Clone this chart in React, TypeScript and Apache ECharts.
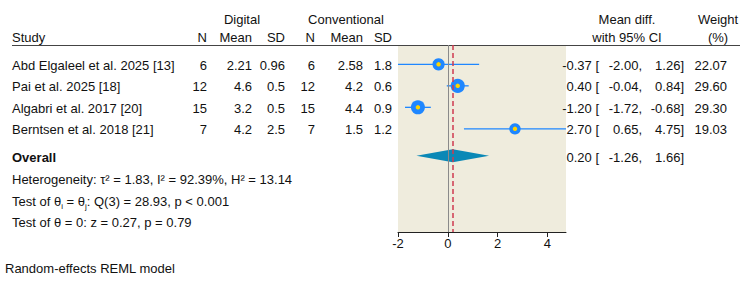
import React, { useEffect, useRef } from 'react';
import * as echarts from 'echarts';

const studies = ['Abd Elgaleel et al. 2025 [13]', 'Pai et al. 2025 [18]', 'Algabri et al. 2017 [20]', 'Berntsen et al. 2018 [21]'];
const digitalN = [6, 12, 15, 7];
const digitalMean = [2.21, 4.6, 3.2, 4.2];
const digitalSD = [0.96, 0.5, 0.5, 2.5];
const convN = [6, 12, 15, 7];
const convMean = [2.58, 4.2, 4.4, 1.5];
const convSD = [1.8, 0.6, 0.9, 1.2];
const meanDiff = [-0.37, 0.4, -1.2, 2.7];
const ciLow = [-2.0, -0.04, -1.72, 0.65];
const ciHigh = [1.26, 0.84, -0.68, 4.75];
const weights = [22.07, 29.6, 29.3, 19.03];
const overallEffect = [0.2, -1.26, 1.66]; // estimate, low, high
const xTicks = [-2, 0, 2, 4];
const statLines = [
  'Heterogeneity: τ² = 1.83, I² = 92.39%, H² = 13.14',
  'Test of θ = 0: z = 0.27, p = 0.79',
];
const modelNote = 'Random-effects REML model';

const FONT = '"Liberation Sans", Arial, Helvetica, sans-serif';
const TXT = '#111';
const BLUE = '#1f87ff';

export default function App() {
  const ref = useRef<HTMLDivElement>(null);
  useEffect(() => {
    const chart = echarts.init(ref.current!, null, { renderer: 'svg' });
    const rows = studies.map((_, i) => i);
    const overallRow = 4.25;
    chart.setOption({
      animation: false,
      grid: { left: 398, top: 45, width: 168, height: 187, show: true, backgroundColor: '#efecdd', borderWidth: 0 },
      xAxis: {
        type: 'value', min: -2, max: 4.75, interval: 2,
        splitLine: { show: false },
        axisLine: { onZero: false, lineStyle: { color: '#222', width: 1 } },
        axisTick: { show: true, length: 5, customValues: xTicks, lineStyle: { color: '#222' } },
        axisLabel: { customValues: xTicks, color: TXT, fontSize: 13, fontFamily: FONT, margin: 5 },
      },
      yAxis: { type: 'value', min: -0.9, max: 7.8, inverse: true, show: false },
      series: [
        {
          type: 'scatter', data: [], z: 1,
          markLine: {
            silent: true, symbol: 'none', label: { show: false },
            data: [
              { xAxis: 0, lineStyle: { color: '#8a8a8a', type: 'solid', width: 1 } },
              { xAxis: overallEffect[0], lineStyle: { color: '#cf3a50', type: [5, 3], width: 1.5 } },
            ],
          },
        },
        {
          type: 'custom', z: 2,
          data: rows.map(i => [i, ciLow[i], ciHigh[i]]),
          encode: { x: [1, 2], y: 0 },
          renderItem: (_p: any, api: any) => {
            const a = api.coord([api.value(1), api.value(0)]);
            const b = api.coord([api.value(2), api.value(0)]);
            return { type: 'line', shape: { x1: a[0], y1: a[1], x2: b[0], y2: b[1] }, style: { stroke: BLUE, lineWidth: 1.3 } };
          },
        },
        {
          type: 'scatter', z: 3,
          data: rows.map(i => [meanDiff[i], i, weights[i]]),
          symbolSize: (v: number[]) => Math.sqrt(v[2]) * 2.6,
          itemStyle: { color: BLUE, opacity: 1 },
        },
        {
          type: 'scatter', z: 4,
          data: rows.map(i => [meanDiff[i], i]),
          symbolSize: 4.5,
          itemStyle: { color: '#ffd400', opacity: 1 },
        },
        {
          type: 'custom', z: 3,
          data: [[overallEffect[0], overallEffect[1], overallEffect[2], overallRow]],
          encode: { x: [0, 1, 2], y: 3 },
          renderItem: (_p: any, api: any) => {
            const y = api.value(3);
            const e = api.coord([api.value(0), y]);
            const l = api.coord([api.value(1), y]);
            const h = api.coord([api.value(2), y]);
            const hh = 6.5;
            return {
              type: 'polygon',
              shape: { points: [[l[0], l[1]], [e[0], e[1] - hh], [h[0], h[1]], [e[0], e[1] + hh]] },
              style: { fill: '#0a88b6' },
            };
          },
        },
      ],
    });

    const t = (text: string, x: number, y: number, align = 'left', extra: any = {}) => ({
      type: 'text', x, y, silent: true,
      style: {
        text, fill: TXT, fontSize: 13, fontFamily: FONT,
        align, textAlign: align, verticalAlign: 'middle', textVerticalAlign: 'middle', ...extra,
      },
    });

    const rowY = (r: number) => chart.convertToPixel({ yAxisIndex: 0 }, r) as number + 0.7;
    const els: any[] = [];
    els.push(t('Digital', 242, 19, 'center'));
    els.push(t('Conventional', 346, 19, 'center'));
    els.push(t('Mean diff.', 627, 19, 'center'));
    els.push(t('with 95% CI', 627, 37, 'center'));
    els.push(t('Weight', 718, 19, 'center'));
    els.push(t('(%)', 718, 37, 'center'));
    els.push(t('Study', 12, 37));
    const colX = [207, 252, 285, 315, 363, 392];
    const colH = ['N', 'Mean', 'SD', 'N', 'Mean', 'SD'];
    colH.forEach((h, k) => els.push(t(h, colX[k], 37, 'right')));
    els.push({ type: 'line', silent: true, shape: { x1: 12, y1: 45.5, x2: 740, y2: 45.5 }, style: { stroke: '#444', lineWidth: 1 } });

    const ciCols = [599, 642, 684];
    rows.forEach(i => {
      const y = rowY(i);
      els.push(t(studies[i], 12, y));
      const vals = [digitalN[i], digitalMean[i], digitalSD[i], convN[i], convMean[i], convSD[i]];
      vals.forEach((v, k) => els.push(t(String(v), colX[k], y, 'right')));
      els.push(t(meanDiff[i].toFixed(2) + ' [', ciCols[0], y, 'right'));
      els.push(t(ciLow[i].toFixed(2) + ',', ciCols[1], y, 'right'));
      els.push(t(ciHigh[i].toFixed(2) + ']', ciCols[2], y, 'right'));
      els.push(t(weights[i].toFixed(2), 727, y, 'right'));
    });
    const oy = rowY(overallRow) + 1;
    els.push(t('Overall', 12, oy, 'left', { fontWeight: 'bold' }));
    els.push(t(overallEffect[0].toFixed(2) + ' [', ciCols[0], oy, 'right'));
    els.push(t(overallEffect[1].toFixed(2) + ',', ciCols[1], oy, 'right'));
    els.push(t(overallEffect[2].toFixed(2) + ']', ciCols[2], oy, 'right'));

    els.push(t(statLines[0], 12, 179));
    els.push({
      type: 'text', x: 12, y: 201, silent: true,
      style: {
        text: '{a|Test of θ}{s|i}{a| = θ}{s|j}{a|: Q(3) = 28.93, p < 0.001}',
        fill: TXT, fontSize: 13, fontFamily: FONT,
        align: 'left', textAlign: 'left', verticalAlign: 'middle', textVerticalAlign: 'middle',
        rich: {
          a: { fontSize: 13, fontFamily: FONT, fill: TXT, color: TXT, lineHeight: 18, verticalAlign: 'middle' },
          s: { fontSize: 8, fontFamily: FONT, fill: TXT, color: TXT, lineHeight: 8, verticalAlign: 'bottom' },
        },
      },
    });
    els.push(t(statLines[1], 12, 222));
    els.push(t(modelNote, 5, 268));

    chart.setOption({ graphic: { elements: els } });
    return () => chart.dispose();
  }, []);
  return <div ref={ref} style={{ position: 'fixed', left: 0, top: 0, width: 750, height: 282, background: '#fff' }} />;
}
